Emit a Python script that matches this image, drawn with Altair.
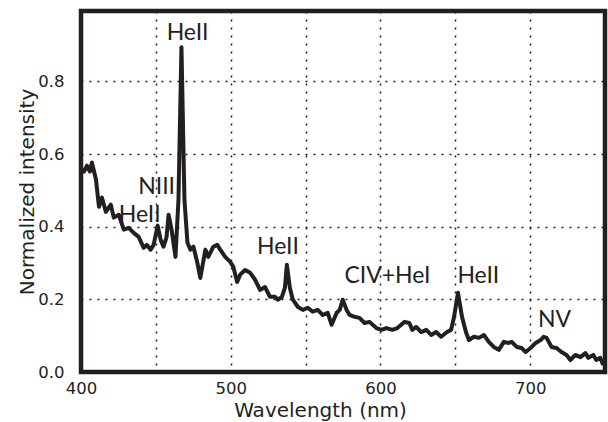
import altair as alt
import pandas as pd

wavelength = [400.0, 402.0, 404.0, 406.0, 407.3, 410.0, 412.0, 414.0, 416.6, 419.9,
              421.9, 425.2, 428.6, 431.9, 435.2, 438.5, 441.9, 443.9, 446.5, 448.5,
              451.2, 453.2, 455.1, 457.1, 458.5, 460.5, 463.1, 465.1, 467.1, 469.1,
              471.1, 473.1, 475.1, 477.7, 479.7, 483.1, 485.0, 488.4, 491.0, 493.0,
              496.3, 499.7, 501.7, 504.3, 506.3, 509.6, 513.0, 516.3, 519.6, 522.9,
              526.2, 529.6, 531.6, 534.2, 536.2, 537.5, 539.5, 541.5, 544.9, 548.2,
              551.5, 554.8, 558.1, 561.5, 564.8, 567.4, 570.8, 572.8, 574.8, 577.4,
              579.4, 582.7, 586.0, 589.4, 592.7, 597.3, 600.7, 604.0, 608.0, 611.3,
              616.0, 619.3, 621.3, 623.9, 627.2, 630.6, 633.9, 637.2, 640.5, 644.5,
              647.2, 649.2, 651.8, 654.5, 657.1, 659.1, 662.5, 665.8, 669.1, 672.4,
              675.7, 679.1, 682.4, 685.7, 687.7, 691.0, 694.4, 697.0, 700.3, 703.7,
              707.0, 709.0, 711.0, 714.3, 717.6, 720.9, 724.3, 726.9, 730.2, 733.6,
              736.9, 738.9, 742.2, 744.2, 746.8, 748.8]
intensity = [0.557, 0.552, 0.568, 0.552, 0.577, 0.530, 0.455, 0.480, 0.441, 0.461,
             0.425, 0.433, 0.392, 0.397, 0.383, 0.372, 0.342, 0.350, 0.337, 0.350,
             0.403, 0.364, 0.345, 0.370, 0.433, 0.392, 0.317, 0.474, 0.894, 0.474,
             0.356, 0.337, 0.345, 0.301, 0.259, 0.337, 0.317, 0.345, 0.350, 0.337,
             0.317, 0.303, 0.290, 0.248, 0.268, 0.281, 0.273, 0.254, 0.226, 0.234,
             0.207, 0.207, 0.199, 0.207, 0.232, 0.295, 0.232, 0.199, 0.179, 0.171,
             0.177, 0.166, 0.171, 0.157, 0.163, 0.130, 0.163, 0.171, 0.199, 0.171,
             0.157, 0.152, 0.149, 0.135, 0.138, 0.121, 0.116, 0.121, 0.116, 0.121,
             0.138, 0.135, 0.116, 0.124, 0.110, 0.116, 0.102, 0.110, 0.097, 0.110,
             0.116, 0.152, 0.218, 0.152, 0.110, 0.088, 0.097, 0.094, 0.102, 0.083,
             0.069, 0.061, 0.083, 0.080, 0.083, 0.069, 0.066, 0.055, 0.066, 0.080,
             0.088, 0.097, 0.094, 0.069, 0.066, 0.055, 0.047, 0.033, 0.047, 0.041,
             0.052, 0.039, 0.047, 0.033, 0.039, 0.019]

label_text = ["HeII", "NIII", "HeII", "HeII", "CIV+HeI", "HeII", "NV"]
label_wl = [471.2, 450.5, 439.2, 531.6, 604.7, 665.4, 716.3]
label_int = [0.915, 0.490, 0.414, 0.324, 0.244, 0.244, 0.123]

ink = "#231f20"

spec = pd.DataFrame({"wl": wavelength, "I": intensity})
labels = pd.DataFrame({"t": label_text, "wl": label_wl, "I": label_int})

x_scale = alt.Scale(domain=[400, 750], nice=False, zero=False)
y_scale = alt.Scale(domain=[0, 0.994], nice=False)

line = alt.Chart(spec).mark_line(color=ink, strokeWidth=4, strokeJoin="round").encode(
    x=alt.X("wl:Q", scale=x_scale,
            axis=alt.Axis(values=[400, 450, 500, 550, 600, 650, 700],
                          labelExpr="datum.value % 100 == 0 ? datum.label : ''",
                          labelFlush=False,
                          title="Wavelength (nm)", titleX=239, titleY=44,
                          titleBaseline="alphabetic")),
    y=alt.Y("I:Q", scale=y_scale,
            axis=alt.Axis(values=[0, 0.2, 0.4, 0.6, 0.8], format=".1f",
                          labelFlush=False,
                          title="Normalized intensity", titleX=-48,
                          titleBaseline="alphabetic")),
)

text = alt.Chart(labels).mark_text(font="Lato", fontSize=23, color=ink,
                                   align="center", baseline="alphabetic").encode(
    x=alt.X("wl:Q", scale=x_scale),
    y=alt.Y("I:Q", scale=y_scale),
    text="t:N",
)

chart = (line + text).properties(
    width=524, height=361,
    padding={"left": 81, "top": 11, "right": 3, "bottom": 50},
    autosize=alt.AutoSizeParams(type="none"),
).configure_view(
    stroke=ink, strokeWidth=4.5,
).configure_axis(
    domain=False, ticks=False,
    grid=True, gridColor=ink, gridDash=[2, 6], gridWidth=1.5, gridOpacity=1,
    labelFont="DejaVu Sans", labelFontSize=16.5, labelColor=ink,
    titleFont="DejaVu Sans", titleFontSize=20, titleFontWeight="normal", titleColor=ink,
).configure_axisX(
    labelPadding=8,
).configure_axisY(
    labelPadding=17,
)

chart.save("out.html", embed_options={"renderer": "svg", "actions": False})
